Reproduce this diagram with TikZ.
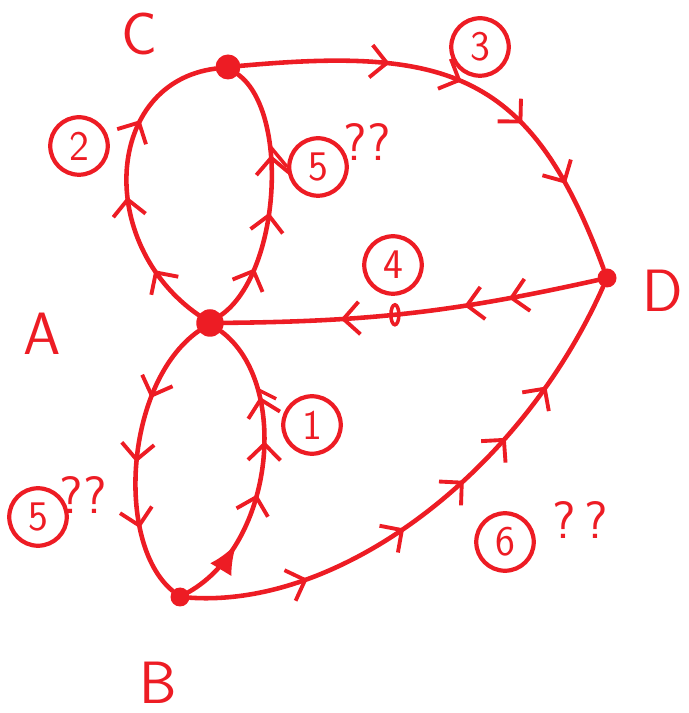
\documentclass[tikz,border=0pt]{standalone}
\usepackage{tikz}
\usetikzlibrary{arrows.meta,decorations.markings}
\definecolor{pen}{RGB}{237,28,36}

\tikzset{
  vertex/.style={circle,fill=pen,inner sep=0pt,minimum size=#1},
  vertex/.default=0.45cm,
  edge/.style={pen,line width=2.6pt,line cap=round},
  arrs/.style={postaction={decorate,decoration={markings,
    mark=at position #1 with {\arrow{Straight Barb[length=3.2mm,width=6.5mm,line width=2.2pt]}}}}},
  fat/.style={postaction={decorate,decoration={markings,
    mark=at position #1 with {\arrow{Latex[length=6mm,width=5mm]}}}}},
  num/.style={circle,draw=pen,line width=2.4pt,text=pen,inner sep=0pt,
    minimum size=1.15cm,font=\sffamily\fontsize{24}{26}\selectfont},
  lbl/.style={text=pen,font=\sffamily\fontsize{34}{40}\selectfont},
  qq/.style={text=pen,font=\sffamily\fontsize{30}{32}\selectfont},
}

\begin{document}
\begin{tikzpicture}[x=0.02cm,y=0.02cm]
\useasboundingbox (0,0) rectangle (689,713);

% vertices
\node[vertex=0.5cm] (C) at (228,646) {};
\node[vertex=0.55cm] (A) at (210,390) {};
\node[vertex=0.38cm] (D) at (607,435) {};
\node[vertex=0.38cm] (B) at (180,116) {};

\node[lbl] (lC) at (139,679) {C};
\node[lbl] (lA) at (42,379) {A};
\node[lbl] (lD) at (663,422) {D};
\node[lbl] (lB) at (158,30) {B};

% edges
\draw[edge,arrs=0.2,arrs=0.45,arrs=0.7]
(A) .. controls (95,470) and (105,630) .. (C);
\draw[edge,arrs=0.22,arrs=0.44,arrs=0.66]
(A) .. controls (280,440) and (290,600) .. coordinate[pos=0.66] (c5) (C);
\draw[edge,arrs=0.32,arrs=0.48,arrs=0.64,arrs=0.8]
(C) .. controls (448,666) and (531,641) .. (D);
\draw[edge,arrs=0.24,arrs=0.36,arrs=0.69]
(D) to[bend left=6] coordinate[pos=0.55] (c4) (A);
\draw[edge,arrs=0.29,arrs=0.52,arrs=0.75]
(A) .. controls (125,330) and (115,170) .. (B);
\draw[edge,fat=0.23,arrs=0.41,arrs=0.59,arrs=0.74]
(B) .. controls (275,170) and (290,330) .. coordinate[pos=0.74] (c1) (A);
\draw[edge,arrs=0.22,arrs=0.42,arrs=0.56,arrs=0.67,arrs=0.79]
(B) .. controls (340,105) and (520,240) .. (D);

% edge numbers
\node[num] (n2) at (79,567) {2};
\node[num] (n3) at (480,666) {3};
\node[num] (n5a) at (318,546) {5};
\node[qq] (q5a) at (367,571) {??};
\node[num] (n4) at (393,448) {4};
\node[num] (n1) at (312,288) {1};
\node[num] (n5b) at (38,196) {5};
\node[qq] (q5b) at (83,218) {??};
\node[num] (n6) at (505,171) {6};
\node[qq] (q6) at (580,193) {?\,?};

\draw[pen,line width=2pt] (c5) -- (n5a.west);
\draw[pen,line width=2pt] (c1) -- ++(18,-9);
\draw[pen,line width=2pt] (c4) ellipse (4 and 10);
\end{tikzpicture}
\end{document}
